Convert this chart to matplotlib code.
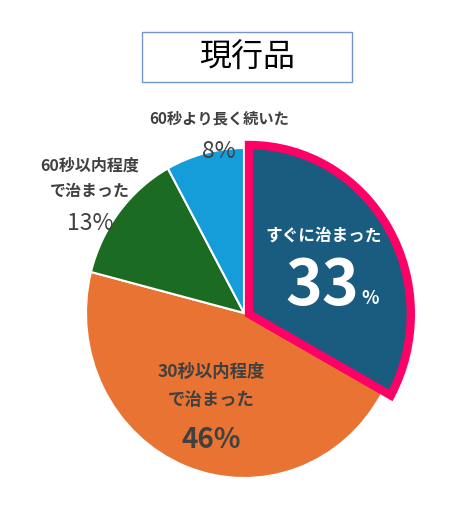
import matplotlib.pyplot as plt
from matplotlib.patches import Rectangle

plt.rcParams['font.family'] = ['Noto Sans CJK JP', 'DejaVu Sans']

title = "現行品"
labels = ["すぐに治まった", "30秒以内程度\nで治まった", "60秒以内程度\nで治まった", "60秒より長く続いた"]
shares = [33, 46, 13, 8]
colors = ["#195C80", "#E87332", "#1C6B23", "#149DD8"]
highlight = "#FF0066"
gray = "#404040"

W, H = 473, 510
k = 165 / 158  # the pie is slightly narrower than tall
fig = plt.figure(figsize=(W / 100, H / 100), dpi=100)
ax = fig.add_axes([0, 0, 1, 1])


def px(x):
    return x * k


def py(y):
    # pixel row -> data y
    return H - y


cx, cy, r = px(244), py(314), 165
wedges, _ = ax.pie(shares, colors=colors, startangle=90, counterclock=False,
                   center=(cx, cy), radius=r, frame=True,
                   wedgeprops=dict(edgecolor="white", linewidth=1.5))
ax.set_xlim(0, W * k)
ax.set_ylim(0, H)
ax.set_aspect("auto")
ax.axis("off")

# highlighted first slice
w0 = wedges[0]
w0.set_center((px(249), py(315)))
w0.set_radius(169)
w0.set_edgecolor(highlight)
w0.set_linewidth(6)
w0.set_joinstyle("miter")
w0.set_zorder(5)

# title box
ax.add_patch(Rectangle((px(142), py(83)), px(210), 50, facecolor="white",
                       edgecolor="#7396CC", linewidth=1))
ax.text(px(247), py(58), title, fontsize=23, ha="center", va="center", color="black")

# labels
ax.text(px(324), py(236), labels[0], fontsize=12, fontweight="bold", color="white",
        ha="center", va="center", zorder=6)
ax.text(px(322), py(286), f"{shares[0]}", fontsize=45, fontweight="bold", color="white",
        ha="center", va="center", zorder=6)
ax.text(px(361), py(298), "%", fontsize=13, fontweight="bold", color="white",
        ha="left", va="center", zorder=6)

ax.text(px(211), py(386), labels[1], fontsize=12.5, fontweight="bold", color=gray,
        ha="center", va="center", linespacing=1.75)
ax.text(px(211), py(440), f"{shares[1]}%", fontsize=20, fontweight="bold", color=gray,
        ha="center", va="center")

ax.text(px(90), py(178), labels[2], fontsize=11.5, fontweight="bold", color=gray,
        ha="center", va="center", linespacing=1.75)
ax.text(px(90), py(224), f"{shares[2]}%", fontsize=16.5, color=gray,
        ha="center", va="center")

ax.text(px(219), py(118), labels[3], fontsize=11, fontweight="bold", color=gray,
        ha="center", va="center")
ax.text(px(219), py(152), f"{shares[3]}%", fontsize=16.5, color=gray,
        ha="center", va="center", zorder=6)

fig.savefig("out.png", dpi=100, facecolor="white")
